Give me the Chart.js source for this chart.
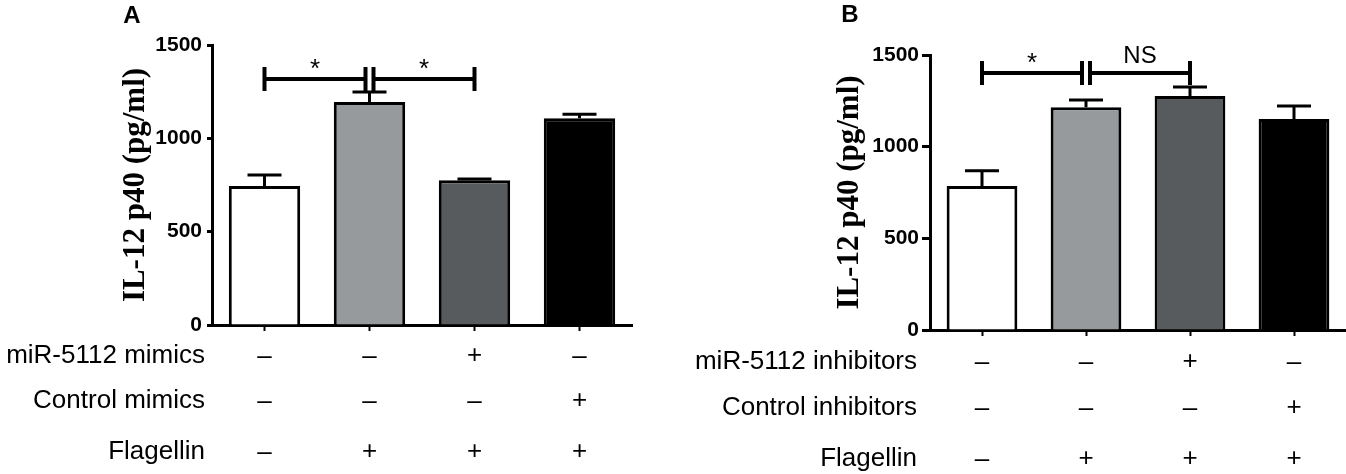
<!DOCTYPE html>
<html>
<head>
<meta charset="utf-8">
<script src="https://cdn.jsdelivr.net/npm/chart.js@4.4.1/dist/chart.umd.min.js"></script>
<style>
  html, body { margin: 0; padding: 0; background: #fff; }
  #wrap { position: relative; width: 1346px; height: 474px; overflow: hidden; }
  canvas { position: absolute; top: 0; }
</style>
</head>
<body>
<div id="wrap">
  <canvas id="chartA" width="673" height="474" style="left:0"></canvas>
  <canvas id="chartB" width="673" height="474" style="left:673px"></canvas>
</div>
<script>
// data
const groups = ["1", "2", "3", "4"];
const valuesA = [745, 1195, 775, 1107];
const errorsA = [59, 53, 7, 22];
const valuesB = [785, 1215, 1276, 1151];
const errorsB = [84, 40, 49, 71];
const yTicks = [0, 500, 1000, 1500];
const rowLabelsA = ["miR-5112 mimics", "Control mimics", "Flagellin"];
const rowLabelsB = ["miR-5112 inhibitors", "Control inhibitors", "Flagellin"];
const signsA = [["–", "–", "+", "–"], ["–", "–", "–", "+"], ["–", "+", "+", "+"]];
const signsB = [["–", "–", "+", "–"], ["–", "–", "–", "+"], ["–", "+", "+", "+"]];
// [from bar, to bar, line value, label]
const bracketsA = [[0, 1, 1318, "*"], [1, 2, 1318, "*"]];
const bracketsB = [[0, 1, 1402, "*"], [1, 2, 1402, "NS"]];

const fills = ["#ffffff", "#969a9d", "#585b5e", "#000000"];
const sans = "'Liberation Sans', Arial, sans-serif";
const serif = "'Liberation Serif', 'Times New Roman', serif";

function extras(p) {
  return {
    id: "extras",
    afterDatasetsDraw(chart) {
      const { ctx, scales: { x, y } } = chart;
      ctx.save();
      ctx.strokeStyle = "#000";
      ctx.fillStyle = "#000";

      // error bars (upper only)
      ctx.lineWidth = 3;
      p.values.forEach((v, i) => {
        const cx = x.getPixelForValue(i);
        const y0 = y.getPixelForValue(v);
        const y1 = y.getPixelForValue(v + p.errors[i]);
        ctx.beginPath();
        ctx.moveTo(cx, y0);
        ctx.lineTo(cx, y1);
        ctx.moveTo(cx - 17, y1);
        ctx.lineTo(cx + 17, y1);
        ctx.stroke();
      });

      // significance brackets
      ctx.lineWidth = 4;
      ctx.textAlign = "center";
      ctx.textBaseline = "alphabetic";
      p.brackets.forEach(([a, b, v, label], k) => {
        const x0 = x.getPixelForValue(a) + (k > 0 ? 4 : 0);
        const x1 = x.getPixelForValue(b) - (k === 0 ? 4 : 0);
        const ly = y.getPixelForValue(v);
        ctx.beginPath();
        ctx.moveTo(x0, ly); ctx.lineTo(x1, ly);
        ctx.moveTo(x0, ly - 12); ctx.lineTo(x0, ly + 12);
        ctx.moveTo(x1, ly - 12); ctx.lineTo(x1, ly + 12);
        ctx.stroke();
        ctx.font = (label === "*" ? "26px " : "24px ") + sans;
        ctx.fillText(label, (x0 + x1) / 2, ly - (label === "*" ? 2 : 10));
      });
      ctx.restore();
    },
    afterDraw(chart) {
      const { ctx, scales: { x } } = chart;
      ctx.save();
      ctx.fillStyle = "#000";
      ctx.textBaseline = "middle";
      p.rowLabels.forEach((label, r) => {
        ctx.font = "26px " + sans;
        ctx.textAlign = "right";
        ctx.fillText(label, p.labelRight, p.rowY[r]);
        ctx.textAlign = "center";
        p.signs[r].forEach((s, i) => {
          ctx.fillText(s, x.getPixelForValue(i), p.rowY[r] + (s === "–" ? 1 : 0));
        });
      });
      ctx.font = "bold 24px " + sans;
      ctx.textAlign = "center";
      ctx.fillText(p.letter, p.letterX, p.letterY);
      ctx.restore();
    }
  };
}

function makePanel(id, p) {
  return new Chart(document.getElementById(id), {
    type: "bar",
    data: {
      labels: groups,
      datasets: [{
        data: p.values,
        backgroundColor: fills,
        borderColor: "#000",
        borderWidth: 3,
        borderSkipped: "start",
        categoryPercentage: 1,
        barPercentage: 0.68
      }]
    },
    options: {
      responsive: false,
      animation: false,
      layout: { padding: { top: p.top, right: p.right, left: 0, bottom: 0 } },
      plugins: { legend: { display: false }, tooltip: { enabled: false } },
      scales: {
        x: {
          z: 1,
          grid: { offset: false, drawOnChartArea: false, tickLength: 6, tickWidth: 2, tickColor: "#000" },
          border: { color: "#000", width: 3 },
          ticks: { display: false },
          afterFit: s => { s.height = p.xHeight; }
        },
        y: {
          z: 1,
          min: 0,
          max: 1500,
          afterBuildTicks: s => { s.ticks = yTicks.map(v => ({ value: v })); },
          grid: { drawOnChartArea: false, tickLength: p.tickLen, tickWidth: 3, tickColor: "#000" },
          border: { color: "#000", width: 3 },
          ticks: {
            color: "#000",
            padding: p.tickPad,
            font: { family: sans, size: 21, weight: "bold" },
            callback: v => String(v)
          },
          title: {
            display: true,
            text: "IL-12 p40 (pg/ml)",
            color: "#000",
            font: { family: serif, size: 31, weight: "bold", lineHeight: 1 },
            padding: { top: p.titlePad, bottom: 0 }
          },
          afterFit: s => { s.width = p.left; }
        }
      }
    },
    plugins: [extras(p)]
  });
}

makePanel("chartA", {
  values: valuesA, errors: errorsA, brackets: bracketsA,
  rowLabels: rowLabelsA, signs: signsA, rowY: [356, 401, 452],
  left: 212, top: 45, right: 41, xHeight: 149,
  tickLen: 5, tickPad: 5, titlePad: 120,
  labelRight: 205, letter: "A", letterX: 132, letterY: 16
});

makePanel("chartB", {
  values: valuesB, errors: errorsB, brackets: bracketsB,
  rowLabels: rowLabelsB, signs: signsB, rowY: [362, 408, 459],
  left: 257, top: 55, right: 0, xHeight: 144,
  tickLen: 8, tickPad: 3, titlePad: 161,
  labelRight: 244, letter: "B", letterX: 177, letterY: 15
});
</script>
</body>
</html>
